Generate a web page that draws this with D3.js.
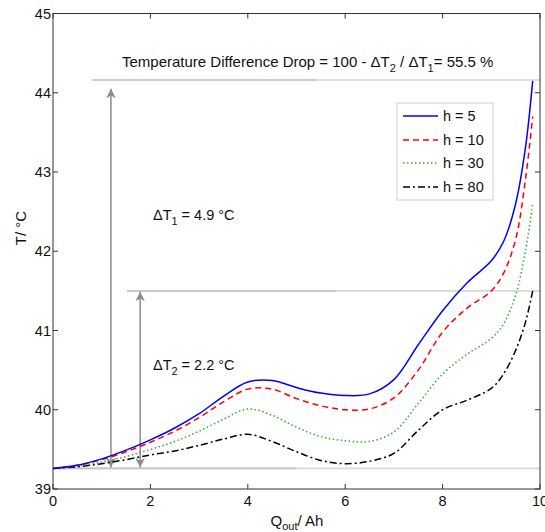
<!DOCTYPE html>
<html><head><meta charset="utf-8">
<script src="https://cdn.jsdelivr.net/npm/d3@7"></script>
<style>html,body{margin:0;padding:0;background:#fff;overflow:hidden}</style>
</head><body>
<svg id="c" width="545" height="532"></svg>
<script>
const xs      = [0,0.5,1,1.5,2,2.5,3,3.5,4,4.5,5,5.5,6,6.5,7,7.5,8,8.5,9,9.25,9.5,9.7,9.85];
const tH5     = [39.26,39.30,39.38,39.49,39.62,39.77,39.95,40.17,40.35,40.37,40.28,40.21,40.18,40.20,40.38,40.82,41.25,41.60,41.88,42.12,42.60,43.30,44.15];
const tH10    = [39.26,39.30,39.37,39.47,39.59,39.73,39.90,40.10,40.26,40.26,40.14,40.05,40.00,40.01,40.15,40.50,40.98,41.28,41.50,41.72,42.15,42.90,43.70];
const tH30    = [39.26,39.29,39.34,39.41,39.50,39.60,39.73,39.88,40.01,39.93,39.78,39.66,39.61,39.60,39.72,40.08,40.45,40.70,40.90,41.08,41.45,42.00,42.60];
const tH80    = [39.26,39.28,39.32,39.37,39.43,39.48,39.55,39.63,39.69,39.60,39.47,39.36,39.32,39.35,39.45,39.74,40.00,40.12,40.27,40.45,40.75,41.10,41.50];
const seriesNames = ["h = 5","h = 10","h = 30","h = 80"];
const xTicks = [0,2,4,6,8,10];
const yTicks = [39,40,41,42,43,44,45];
const refLevels = [44.16, 41.5, 39.26];     // ΔT1 top, ΔT2 top, base
const refStart  = [0.81, 1.52, 0];
const refDarkEnd= [5.4, 5.8, 5.0];
const arrowX    = [1.19, 1.79];

const svg = d3.select("#c");
const L=53,R=540,T=13.5,B=489;
const x = d3.scaleLinear().domain([0,10]).range([L,R]);
const y = d3.scaleLinear().domain([39,45]).range([B,T]);
const font = "'Liberation Sans', Arial, sans-serif";

// reference lines
refLevels.forEach((lv,i)=>{
  svg.append("line").attr("x1",x(refStart[i])).attr("x2",x(10)).attr("y1",y(lv)).attr("y2",y(lv))
    .attr("stroke","#d9d9d9").attr("stroke-width",1.6);
  svg.append("line").attr("x1",x(refStart[i])).attr("x2",x(refDarkEnd[i])).attr("y1",y(lv)).attr("y2",y(lv))
    .attr("stroke","#c4c4c4").attr("stroke-width",1.6);
});

// arrows
const defs = svg.append("defs");
defs.append("marker").attr("id","ah").attr("viewBox","0 0 10 10").attr("refX",10).attr("refY",5)
  .attr("markerWidth",6.5).attr("markerHeight",6.5).attr("markerUnits","strokeWidth").attr("orient","auto-start-reverse")
  .append("path").attr("d","M0,0 L10,5 L0,10 L3,5 Z").attr("fill","#8c8c8c");
const arrowTop = [44.05, 41.49];
arrowX.forEach((ax,i)=>{
  svg.append("line").attr("x1",x(ax)).attr("x2",x(ax)).attr("y1",y(arrowTop[i])).attr("y2",y(39.27))
    .attr("stroke","#8c8c8c").attr("stroke-width",1.5)
    .attr("marker-start","url(#ah)").attr("marker-end","url(#ah)");
});

// curves
const styles = [
  {color:"#0000ff", dash:null},
  {color:"#ff0000", dash:"6,4"},
  {color:"#33aa33", dash:"1.5,2.5"},
  {color:"#000000", dash:"7,3,2,3"}
];
const allSeries = [tH5,tH10,tH30,tH80];
const line = d3.line().x((d,i)=>x(xs[i])).y(d=>y(d)).curve(d3.curveCatmullRom.alpha(0.5));
allSeries.slice().reverse().forEach((vals,ri)=>{
  const i = allSeries.length-1-ri;
  svg.append("path").attr("d",line(vals)).attr("fill","none")
    .attr("stroke",styles[i].color).attr("stroke-width",1.5)
    .attr("stroke-dasharray",styles[i].dash);
});

// axes box
svg.append("rect").attr("x",L).attr("y",T).attr("width",R-L).attr("height",B-T)
  .attr("fill","none").attr("stroke","#333").attr("stroke-width",1);
const tl=5;
const gAx = svg.append("g").attr("stroke","#333").attr("stroke-width",1);
xTicks.forEach(t=>{
  gAx.append("line").attr("x1",x(t)).attr("x2",x(t)).attr("y1",B).attr("y2",B-tl);
  gAx.append("line").attr("x1",x(t)).attr("x2",x(t)).attr("y1",T).attr("y2",T+tl);
});
yTicks.forEach(t=>{
  gAx.append("line").attr("x1",L).attr("x2",L+tl).attr("y1",y(t)).attr("y2",y(t));
  gAx.append("line").attr("x1",R).attr("x2",R-tl).attr("y1",y(t)).attr("y2",y(t));
});
const tx = svg.append("g").attr("font-family",font).attr("font-size",14.5).attr("fill","#111");
xTicks.forEach(t=>{
  tx.append("text").attr("x",x(t)).attr("y",B+17).attr("text-anchor","middle").text(t);
});
yTicks.forEach(t=>{
  tx.append("text").attr("x",L-2).attr("y",y(t)+5).attr("text-anchor","end").text(t);
});

// axis labels
const xl = svg.append("text").attr("x",297).attr("y",526).attr("text-anchor","middle")
  .attr("font-family",font).attr("font-size",15).attr("fill","#111");
xl.append("tspan").text("Q");
xl.append("tspan").attr("font-size",11).attr("dy",4).text("out");
xl.append("tspan").attr("dy",-4).text("/ Ah");
svg.append("text").attr("transform","translate(26,228) rotate(-90)").attr("text-anchor","middle")
  .attr("font-family",font).attr("font-size",15).attr("fill","#111").text("T/ °C");

// annotations
function deltaText(xp,yp,sub,rest,size){
  const t = svg.append("text").attr("x",xp).attr("y",yp).attr("font-family",font)
    .attr("font-size",size).attr("fill","#111");
  t.append("tspan").text("ΔT");
  t.append("tspan").attr("font-size",size*0.75).attr("dy",5).text(sub);
  t.append("tspan").attr("dy",-5).text(rest);
  return t;
}
deltaText(153,220,"1"," = 4.9 °C",14.5);
deltaText(153,370,"2"," = 2.2 °C",14.5);
const tt = svg.append("text").attr("x",122).attr("y",67).attr("font-family",font)
  .attr("font-size",15).attr("fill","#111");
tt.append("tspan").text("Temperature Difference Drop = 100 - ΔT");
tt.append("tspan").attr("font-size",11).attr("dy",5).text("2");
tt.append("tspan").attr("dy",-5).text(" / ΔT");
tt.append("tspan").attr("font-size",11).attr("dy",5).text("1");
tt.append("tspan").attr("dy",-5).text("= 55.5 %");

// legend
const lg = svg.append("g");
lg.append("rect").attr("x",397).attr("y",103).attr("width",96).attr("height",97)
  .attr("fill","#fff").attr("stroke","#d0d0d0").attr("stroke-width",1);
const lgY = [116,140,163,187];
seriesNames.forEach((n,i)=>{
  lg.append("line").attr("x1",403).attr("x2",438).attr("y1",lgY[i]).attr("y2",lgY[i])
    .attr("stroke",styles[i].color).attr("stroke-width",1.5).attr("stroke-dasharray",styles[i].dash);
  lg.append("text").attr("x",443).attr("y",lgY[i]+5).attr("font-family",font).attr("font-size",14.5)
    .attr("fill","#111").text(n);
});
</script>
</body></html>
